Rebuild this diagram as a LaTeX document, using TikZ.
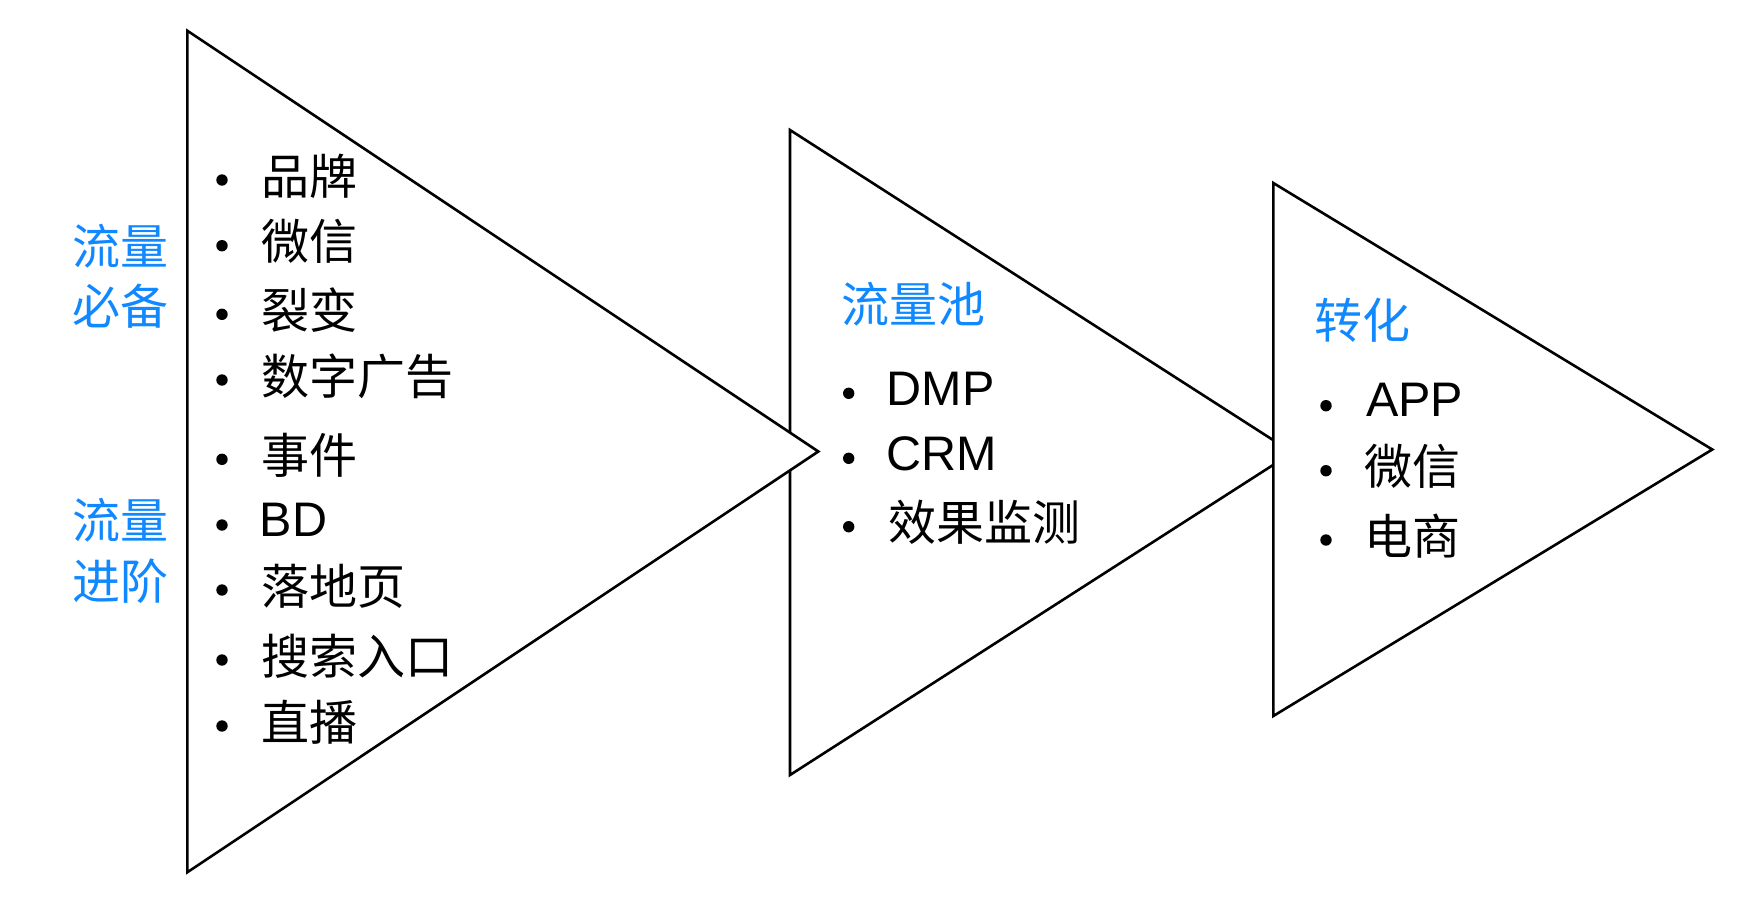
\documentclass[tikz,border=0pt]{standalone}
\usepackage{fontspec}
\setmainfont{Liberation Sans}
\newfontfamily\cjk{Noto Sans CJK SC}
\definecolor{flowblue}{RGB}{16,136,255}
\tikzset{
  tri/.style={draw=black, line width=2.6pt, fill=white, line join=miter},
  dot/.style={circle, fill=black, inner sep=0pt, minimum size=11.4pt},
  itemcjk/.style={anchor=base west, inner sep=0pt, font=\cjk\fontsize{48}{48}\selectfont},
  itemlat/.style={anchor=base west, inner sep=0pt, font=\fontsize{48.5}{48.5}\selectfont},
  headtxt/.style={itemcjk, text=flowblue}
}
\begin{document}
\begin{tikzpicture}[x=1pt,y=-1pt]
\useasboundingbox (0,0) rectangle (1743,903);
% triangle 2 (behind)
\coordinate (t2a) at (790,130);
\coordinate (t2b) at (790,775);
\coordinate (t2c) at (1292.5,452.5);
\path[tri] (t2a) -- (t2c) -- (t2b) -- cycle;
% triangle 3
\coordinate (t3a) at (1273.3,183);
\coordinate (t3b) at (1273.3,716);
\coordinate (t3c) at (1712.3,449.5);
\path[tri] (t3a) -- (t3c) -- (t3b) -- cycle;
% triangle 1
\coordinate (t1a) at (187.3,30.7);
\coordinate (t1b) at (187.3,872.3);
\coordinate (t1c) at (818.3,451.5);
\path[tri] (t1a) -- (t1c) -- (t1b) -- cycle;

% left labels
\node[headtxt] (lA1) at (72.6,264) {流量};
\node[headtxt] (lA2) at (72.6,324) {必备};
\node[headtxt] (lB1) at (72.6,538.3) {流量};
\node[headtxt] (lB2) at (72.6,599.5) {进阶};

% triangle 1 items
\node[dot] (d1) at (222,180) {};   \node[itemcjk] (i1) at (261,194) {品牌};
\node[dot] (d2) at (222,245.7) {}; \node[itemcjk] (i2) at (261,259.7) {微信};
\node[dot] (d3) at (222,314.3) {}; \node[itemcjk] (i3) at (261,328.3) {裂变};
\node[dot] (d4) at (222,380) {};   \node[itemcjk] (i4) at (261,394) {数字广告};
\node[dot] (d5) at (222,459.3) {}; \node[itemcjk] (i5) at (261,473.3) {事件};
\node[dot] (d6) at (222,525) {};   \node[itemlat] (i6) at (259.5,536.7) {BD};
\node[dot] (d7) at (222,590) {};   \node[itemcjk] (i7) at (261,604) {落地页};
\node[dot] (d8) at (222,660) {};   \node[itemcjk] (i8) at (261,674) {搜索入口};
\node[dot] (d9) at (222,726) {};   \node[itemcjk] (i9) at (261,740) {直播};

% triangle 2
\node[headtxt] (h2) at (841.3,322.6) {流量池};
\node[dot] (e1) at (848.7,393.3) {}; \node[itemlat] (j1) at (886.5,405) {DMP};
\node[dot] (e2) at (848.7,458.3) {}; \node[itemlat] (j2) at (886.5,470) {CRM};
\node[dot] (e3) at (848.7,526.7) {}; \node[itemcjk] (j3) at (888,540.7) {效果监测};

% triangle 3
\node[headtxt] (h3) at (1314,338.3) {转化};
\node[dot] (f1) at (1326,405.7) {}; \node[itemlat] (k1) at (1366,416.7) {APP};
\node[dot] (f2) at (1326,470.7) {}; \node[itemcjk] (k2) at (1364,484.7) {微信};
\node[dot] (f3) at (1326,540) {};   \node[itemcjk] (k3) at (1364,554) {电商};
\end{tikzpicture}
\end{document}
